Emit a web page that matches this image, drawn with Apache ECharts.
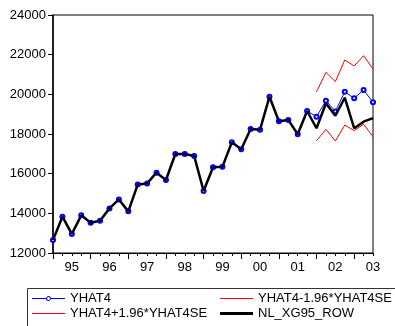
<!DOCTYPE html>
<html>
<head>
<meta charset="utf-8">
<script src="https://cdn.jsdelivr.net/npm/echarts@6/dist/echarts.min.js"></script>
<style>html,body{margin:0;padding:0;background:#fff;}#c{width:395px;height:326px;}</style>
</head>
<body>
<div id="c"></div>
<script>
var quarters = [];
for (var y = 1995; y <= 2003; y++) { for (var q = 1; q <= 4; q++) { if (y === 2003 && q > 3) break; quarters.push(y + 'Q' + q); } }

var actual = [12650, 13830, 12960, 13900, 13530, 13630, 14250, 14700, 14100, 15450, 15510, 16050,
  15680, 16990, 16990, 16890, 15130, 16320, 16350, 17580, 17230, 18250, 18220, 19880,
  18640, 18710, 17990, 19160, 18290, 19550, 18920, 19830, 18290, 18620, 18800];
var yhat4 = [12650, 13830, 12960, 13900, 13530, 13630, 14250, 14700, 14100, 15450, 15510, 16050,
  15680, 16990, 16990, 16890, 15130, 16320, 16350, 17580, 17230, 18250, 18220, 19880,
  18640, 18710, 17990, 19160, 18870, 19680, 19140, 20130, 19800, 20220, 19600];
var upper = [null, null, null, null, null, null, null, null, null, null, null, null, null, null,
  null, null, null, null, null, null, null, null, null, null, null, null, null, null,
  20130, 21110, 20640, 21730, 21430, 21950, 21280];
var lower = [null, null, null, null, null, null, null, null, null, null, null, null, null, null,
  null, null, null, null, null, null, null, null, null, null, null, null, null, null,
  17660, 18240, 17650, 18450, 18170, 18490, 17860];
var yTicks = [12000, 14000, 16000, 18000, 20000, 22000, 24000];

var font = 'Liberation Sans, Arial, sans-serif';
var ringIcon = 'path://M0,2L14,2L14,3L0,3Z M19,2L33,2L33,3L19,3Z M16.5,0A2.5,2.5,0,1,1,16.49,0Z M16.5,1A1.5,1.5,0,1,0,16.51,1Z';
function leg(name, left, top, icon, h, color) {
  return {
    orient: 'horizontal', left: left, top: top, itemWidth: 33, itemHeight: h, itemGap: 0,
    icon: icon, itemStyle: { color: color, borderWidth: 0 },
    textStyle: { fontFamily: font, fontSize: 13, color: '#000000', padding: [0, 0, 0, 0] },
    padding: 0, data: [name]
  };
}
var chart = echarts.init(document.getElementById('c'));
chart.setOption({
  animation: false,
  backgroundColor: '#fff',
  grid: { left: 53, right: 22, top: 15, bottom: 73, show: true, borderColor: '#000', borderWidth: 1 },
  xAxis: [{
    type: 'category', data: quarters, boundaryGap: false,
    axisLine: { lineStyle: { color: '#000', width: 1 } },
    axisTick: { interval: 0, length: 3, lineStyle: { color: '#000' } },
    axisLabel: { interval: function (i) { return i % 4 === 2; }, formatter: function (v) { return v.slice(2, 4); },
      color: '#000', fontFamily: font, fontSize: 13, margin: 8 },
    splitLine: { show: false }
  }, {
    type: 'category', data: quarters, boundaryGap: false, position: 'bottom',
    axisLine: { show: false },
    axisTick: { interval: function (i) { return i % 4 === 0; }, length: 6, lineStyle: { color: '#000' } },
    axisLabel: { show: false }, splitLine: { show: false }
  }],
  yAxis: {
    type: 'value', min: yTicks[0], max: yTicks[yTicks.length - 1], interval: 2000,
    axisLine: { show: true, lineStyle: { color: '#000', width: 1.5 } },
    axisTick: { show: true, length: 5, lineStyle: { color: '#000' } },
    axisLabel: { color: '#000', fontFamily: font, fontSize: 13, margin: 7, formatter: function (v) { return String(v); } },
    splitLine: { show: false }
  },
  legend: [
    leg('YHAT4', 32, 292, ringIcon, 5, '#0000ff'),
    leg('YHAT4+1.96*YHAT4SE', 32, 307, 'rect', 1.2, '#ff0000'),
    leg('YHAT4-1.96*YHAT4SE', 220, 292, 'rect', 1, '#ff0000'),
    leg('NL_XG95_ROW', 220, 307, 'rect', 3, '#000000')
  ],
  graphic: [{
    type: 'rect', left: 25, top: 286, shape: { width: 420, height: 60 },
    style: { fill: 'none', stroke: '#333', lineWidth: 1 }, silent: true, z: 100
  }],
  series: [{
    name: 'YHAT4', type: 'line', data: yhat4, symbol: 'emptyCircle', symbolSize: 4,
    lineStyle: { color: '#0000ff', width: 1 }, itemStyle: { color: '#0000ff', borderColor: '#0000ff', borderWidth: 1 }, z: 2
  }, {
    name: 'YHAT4+1.96*YHAT4SE', type: 'line', data: upper, symbol: 'none',
    lineStyle: { color: '#ff0000', width: 1 }, itemStyle: { color: '#ff0000' }, z: 2
  }, {
    name: 'YHAT4-1.96*YHAT4SE', type: 'line', data: lower, symbol: 'none',
    lineStyle: { color: '#ff0000', width: 1 }, itemStyle: { color: '#ff0000' }, z: 2
  }, {
    name: 'NL_XG95_ROW', type: 'line', data: actual, symbol: 'none',
    lineStyle: { color: '#000', width: 2.5 }, itemStyle: { color: '#000' }, z: 3
  }, {
    name: 'yhat4marks', type: 'scatter', data: yhat4, symbol: 'circle', symbolSize: 4,
    itemStyle: { color: 'rgba(0,0,0,0)', borderColor: '#0000ff', borderWidth: 1 }, z: 4
  }]
});
</script>
</body>
</html>
